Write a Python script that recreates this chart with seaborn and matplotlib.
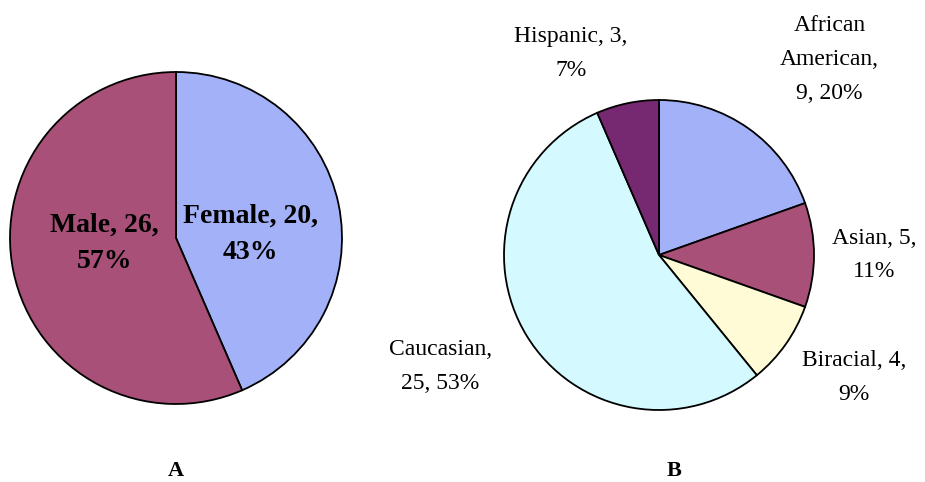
import matplotlib
matplotlib.use("Agg")
import matplotlib.pyplot as plt
import seaborn as sns

# panel A: gender
gender_labels = ["Female", "Male"]
gender_counts = [20, 26]
gender_pct = ["43%", "57%"]
gender_colors = ["#A3B1F8", "#A85077"]

# panel B: ethnicity (clockwise from 12 o'clock)
eth_labels = ["African\nAmerican,", "Asian, 5,", "Biracial, 4,", "Caucasian,", "Hispanic, 3,"]
eth_counts = [9, 5, 4, 25, 3]
eth_pct = ["20%", "11%", "9%", "53%", "7%"]
eth_colors = ["#A3B1F8", "#A85077", "#FFFBD6", "#D4FAFF", "#762970"]

sns.set_theme(style="white")
plt.rcParams["font.family"] = ["Liberation Serif", "DejaVu Serif"]
plt.rcParams["text.color"] = "black"

W, H = 925, 482
fig = plt.figure(figsize=(W / 100, H / 100), dpi=100)


def pie_axes(cx, cy, r):
    ax = fig.add_axes([(cx - r) / W, (H - cy - r) / H, 2 * r / W, 2 * r / H])
    return ax


def finish(ax):
    # pie() resets the limits, so fix them afterwards
    ax.set_xlim(-1, 1)
    ax.set_ylim(-1, 1)
    ax.set_aspect("equal")
    ax.axis("off")


wedge_style = dict(edgecolor="black", linewidth=1.3)

# --- A ---
axA = pie_axes(176, 238, 166)
axA.pie(gender_counts, colors=gender_colors, startangle=90, counterclock=False,
        radius=1, wedgeprops=wedge_style)
finish(axA)
axA.text(0.45, 0.02, f"{gender_labels[0]}, {gender_counts[0]},\n{gender_pct[0]}",
         ha="center", va="center", fontsize=20, fontweight="bold", linespacing=1.6)
axA.text(-0.43, -0.03, f"{gender_labels[1]}, {gender_counts[1]},\n{gender_pct[1]}",
         ha="center", va="center", fontsize=20, fontweight="bold", linespacing=1.6)

# --- B ---
axB = pie_axes(659, 255, 155)
axB.pie(eth_counts, colors=eth_colors, startangle=90, counterclock=False,
        radius=1, wedgeprops=wedge_style)
finish(axB)
eth_text = [
    f"{eth_labels[0]}\n{eth_counts[0]}, {eth_pct[0]}",
    f"{eth_labels[1]}\n{eth_pct[1]}",
    f"{eth_labels[2]}\n{eth_pct[2]}",
    f"{eth_labels[3]}\n{eth_counts[3]}, {eth_pct[3]}",
    f"{eth_labels[4]}\n{eth_pct[4]}",
]
label_pos = [(1.10, 1.26), (1.39, 0.0), (1.26, -0.79), (-1.41, -0.72), (-0.57, 1.30)]
for txt, (x, y) in zip(eth_text, label_pos):
    axB.text(x, y, txt, ha="center", va="center", fontsize=17, linespacing=1.8)

fig.text(176 / W, 1 - 471 / H, "A", ha="center", va="center", fontsize=16, fontweight="bold")
fig.text(674 / W, 1 - 471 / H, "B", ha="center", va="center", fontsize=16, fontweight="bold")

fig.savefig("out.png", dpi=100, facecolor="white")
